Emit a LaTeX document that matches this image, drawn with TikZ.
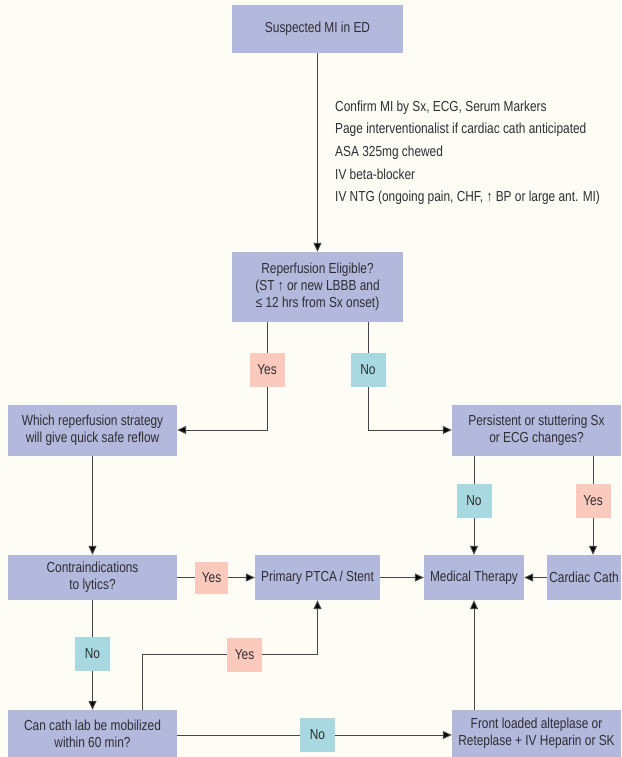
\documentclass[tikz,border=0pt]{standalone}
\usepackage{fontspec}
\setmainfont{Liberation Sans}[FakeStretch=0.82]
\usetikzlibrary{arrows.meta}
\definecolor{bgc}{RGB}{254,253,245}
\definecolor{boxc}{RGB}{179,185,220}
\definecolor{yesc}{RGB}{252,202,188}
\definecolor{noc}{RGB}{168,216,224}
\definecolor{txtc}{RGB}{45,45,50}
\definecolor{linec}{RGB}{70,70,70}
\tikzset{
  box/.style={fill=boxc, text=txtc, align=center, inner sep=0pt, font=\fontsize{14.5}{17}\selectfont},
  yesbox/.style={fill=yesc, text=txtc, minimum width=35pt, minimum height=34pt, inner sep=0pt, font=\fontsize{14.5}{17}\selectfont},
  nobox/.style={fill=noc, text=txtc, minimum width=35pt, minimum height=34pt, inner sep=0pt, font=\fontsize{14.5}{17}\selectfont},
  conn/.style={draw=linec, line width=1pt},
  arr/.style={conn, -{Triangle[length=9pt,width=8pt,fill=black]}},
}
\begin{document}
\begin{tikzpicture}[x=1pt,y=-1pt]
\useasboundingbox[fill=bgc] (0,0) rectangle (621,757);

\node[box, minimum width=171pt, minimum height=48pt] (top) at (317.5,29) {Suspected MI in ED};
\node[text=txtc, align=left, anchor=north west, inner sep=0pt, font=\fontsize{14.5}{22.6}\selectfont] (notes) at (335,100.5)
  {Confirm MI by Sx, ECG, Serum Markers\\
   Page interventionalist if cardiac cath anticipated\\
   ASA 325mg chewed\\
   IV beta-blocker\\
   IV NTG (ongoing pain, CHF, ↑ BP or large ant. MI)};
\node[box, minimum width=171pt, minimum height=70pt] (reperf) at (317.5,287)
  {Reperfusion Eligible?\\(ST ↑ or new LBBB and\\≤ 12 hrs from Sx onset)};

\node[yesbox] (yes1) at (267,370) {Yes};
\node[nobox] (no1) at (368,370) {No};

\node[box, minimum width=169pt, minimum height=51pt] (which) at (92.5,430)
  {Which reperfusion strategy\\will give quick safe reflow};
\node[box, minimum width=169pt, minimum height=51pt] (persist) at (536.5,430)
  {Persistent or stuttering Sx\\or ECG changes?};

\node[nobox] (no2) at (474,501) {No};
\node[yesbox] (yes2) at (593,501) {Yes};

\node[box, minimum width=169pt, minimum height=45pt] (contra) at (92.5,577.5)
  {Contraindications\\to lytics?};
\node[yesbox, minimum width=33pt, minimum height=32pt] (yes3) at (211.5,577.5) {Yes};
\node[box, minimum width=125pt, minimum height=45pt] (ptca) at (317.5,577.5) {Primary PTCA\,/ Stent};
\node[box, minimum width=100pt, minimum height=45pt] (med) at (474,577.5) {Medical Therapy};
\node[box, minimum width=74pt, minimum height=45pt] (cath) at (584,577.5) {Cardiac Cath};

\node[nobox] (no3) at (92.5,654) {No};
\node[yesbox] (yes4) at (244.5,654.5) {Yes};

\node[box, minimum width=169pt, minimum height=47pt] (canc) at (92.5,733.5)
  {Can cath lab be mobilized\\within 60 min?};
\node[nobox] (no5) at (317.5,735) {No};
\node[box, minimum width=169pt, minimum height=47pt] (front) at (536.5,733.5)
  {Front loaded alteplase or\\Reteplase + IV Heparin or SK};

\coordinate (c1) at (142,710);

\draw[arr] (top) -- (reperf);
\draw[conn] (reperf.south -| yes1) -- (yes1);
\draw[arr] (yes1) |- (which);
\draw[conn] (reperf.south -| no1) -- (no1);
\draw[arr] (no1) |- (persist);
\draw[arr] (which) -- (contra);
\draw[conn] (persist.south -| no2) -- (no2);
\draw[arr] (no2) -- (med);
\draw[conn] (persist.south -| yes2) -- (yes2);
\draw[arr] (yes2) -- (yes2 |- cath.north);
\draw[conn] (contra) -- (yes3);
\draw[arr] (yes3) -- (ptca);
\draw[arr] (ptca) -- (med);
\draw[arr] (cath) -- (med);
\draw[conn] (contra) -- (no3);
\draw[arr] (no3) -- (canc);
\draw[conn] (c1) |- (yes4);
\draw[arr] (yes4) -| (ptca);
\draw[conn] (canc.east |- no5) -- (no5);
\draw[arr] (no5) -- (front.west |- no5);
\draw[arr] (front.north -| med) -- (med);
\end{tikzpicture}
\end{document}
